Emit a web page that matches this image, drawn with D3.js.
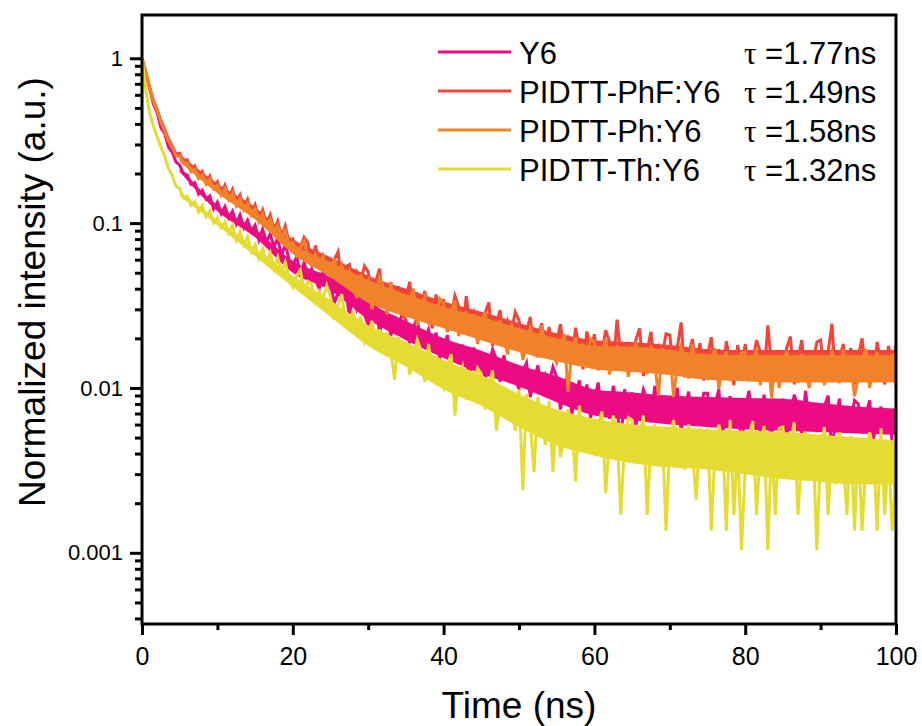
<!DOCTYPE html>
<html>
<head>
<meta charset="utf-8">
<script src="https://cdn.jsdelivr.net/npm/d3@7"></script>
<style>
  body { margin: 0; background: #fff; }
  svg { display: block; }
</style>
</head>
<body>
<div id="chart"></div>
<script>
// time channels, 0.5 ns bins from 0 to 100 ns
const time_ns = d3.range(0, 100.25, 0.5);

// normalized PL decay, one value per time channel
const y6_values = [
  1.0, 0.80, 0.66, 0.53, 0.47, 0.38, 0.35, 0.29, 0.27, 0.235,
  0.225, 0.20, 0.196, 0.172, 0.176, 0.15, 0.158, 0.14, 0.146, 0.122,
  0.134, 0.114, 0.126, 0.108, 0.118, 0.099, 0.112, 0.094, 0.104, 0.089,
  0.097, 0.079, 0.092, 0.077, 0.086, 0.072, 0.081, 0.063, 0.075, 0.06,
  0.055, 0.0627, 0.0499, 0.0576, 0.0482, 0.0528, 0.0453, 0.040, 0.0513, 0.0445,
  0.0432, 0.0327, 0.0376, 0.0446, 0.0404, 0.0273, 0.039, 0.0299, 0.0332, 0.028,
  0.024, 0.0303, 0.034, 0.0215, 0.0271, 0.0289, 0.0207, 0.0256, 0.0229, 0.0284,
  0.026, 0.0187, 0.0231, 0.027, 0.0177, 0.0194, 0.0226, 0.0175, 0.0217, 0.0152,
  0.0174, 0.0209, 0.0151, 0.0186, 0.0143, 0.0183, 0.0144, 0.0117, 0.0176, 0.014,
  0.0164, 0.0112, 0.0136, 0.0171, 0.015, 0.0109, 0.0158, 0.012, 0.0133, 0.0111,
  0.0099, 0.0126, 0.0142, 0.0088, 0.0112, 0.0137, 0.0096, 0.012, 0.0107, 0.0134,
  0.0116, 0.0074, 0.010, 0.0122, 0.0069, 0.0091, 0.0111, 0.008, 0.0105, 0.0066,
  0.0085, 0.0108, 0.007, 0.0093, 0.0065, 0.0103, 0.0078, 0.0045, 0.0098, 0.0075,
  0.0094, 0.0059, 0.0075, 0.0098, 0.0085, 0.0062, 0.0103, 0.0071, 0.0082, 0.0064,
  0.0063, 0.0086, 0.010, 0.0054, 0.0075, 0.0095, 0.0061, 0.0082, 0.007, 0.0093,
  0.0093, 0.0058, 0.0079, 0.0098, 0.0053, 0.0072, 0.0089, 0.0063, 0.0084, 0.0042,
  0.0074, 0.0096, 0.0059, 0.0081, 0.0054, 0.0091, 0.0066, 0.0049, 0.0086, 0.0064,
  0.0086, 0.005, 0.0067, 0.0091, 0.0077, 0.0053, 0.0096, 0.0062, 0.0074, 0.0055,
  0.0056, 0.0077, 0.009, 0.004, 0.0067, 0.0086, 0.0054, 0.0073, 0.0063, 0.0084,
  0.008, 0.0053, 0.0069, 0.0084, 0.0049, 0.0064, 0.0077, 0.0056, 0.0073, 0.0047,
  0.0021
];

const phf_values = [
  1.0, 0.83, 0.67, 0.56, 0.49, 0.42, 0.37, 0.325, 0.295, 0.262,
  0.265, 0.236, 0.242, 0.21, 0.222, 0.19, 0.205, 0.176, 0.193, 0.165,
  0.178, 0.152, 0.17, 0.142, 0.16, 0.131, 0.148, 0.124, 0.139, 0.115,
  0.129, 0.105, 0.12, 0.099, 0.112, 0.091, 0.103, 0.082, 0.096, 0.076,
  0.080, 0.064, 0.071, 0.082, 0.076, 0.055, 0.073, 0.059, 0.064, 0.056,
  0.049, 0.060, 0.067, 0.044, 0.054, 0.056, 0.040, 0.050, 0.044, 0.055,
  0.0507, 0.0335, 0.0438, 0.053, 0.0312, 0.0362, 0.0434, 0.0321, 0.0414, 0.027,
  0.035, 0.044, 0.029, 0.038, 0.027, 0.0387, 0.0295, 0.023, 0.0369, 0.0286,
  0.0346, 0.0219, 0.0278, 0.0363, 0.0312, 0.0212, 0.036, 0.0245, 0.0286, 0.022,
  0.021, 0.0285, 0.033, 0.018, 0.0248, 0.0296, 0.0191, 0.0254, 0.0219, 0.0289,
  0.0258, 0.0168, 0.0222, 0.027, 0.0156, 0.0204, 0.0246, 0.018, 0.0234, 0.015,
  0.019, 0.0244, 0.0154, 0.0208, 0.0142, 0.0232, 0.0172, 0.013, 0.022, 0.0166,
  0.0212, 0.0128, 0.0167, 0.0224, 0.019, 0.0133, 0.026, 0.0156, 0.0184, 0.0139,
  0.014, 0.0196, 0.023, 0.0118, 0.0168, 0.0219, 0.0135, 0.0185, 0.0157, 0.0213,
  0.0209, 0.0127, 0.0176, 0.025, 0.0116, 0.016, 0.0198, 0.0138, 0.0187, 0.0111,
  0.0156, 0.0203, 0.0125, 0.0172, 0.0114, 0.0192, 0.014, 0.0104, 0.0182, 0.0135,
  0.0185, 0.011, 0.0145, 0.0195, 0.0165, 0.0115, 0.024, 0.0135, 0.016, 0.012,
  0.0125, 0.0175, 0.0205, 0.0105, 0.015, 0.0195, 0.012, 0.0165, 0.014, 0.019,
  0.0195, 0.012, 0.0165, 0.0245, 0.011, 0.015, 0.0185, 0.013, 0.0175, 0.0105,
  0.0155, 0.020, 0.0125, 0.017, 0.0115, 0.019, 0.014, 0.0105, 0.018, 0.0135,
  0.0182
];

const ph_values = [
  1.0, 0.82, 0.66, 0.55, 0.48, 0.41, 0.36, 0.315, 0.29, 0.255,
  0.255, 0.232, 0.232, 0.205, 0.212, 0.186, 0.196, 0.172, 0.185, 0.162,
  0.17, 0.148, 0.162, 0.139, 0.152, 0.128, 0.14, 0.121, 0.132, 0.112,
  0.122, 0.102, 0.114, 0.097, 0.106, 0.089, 0.097, 0.08, 0.09, 0.074,
  0.076, 0.064, 0.071, 0.078, 0.062, 0.059, 0.065, 0.055, 0.063, 0.051,
  0.052, 0.061, 0.046, 0.055, 0.044, 0.051, 0.042, 0.035, 0.049, 0.041,
  0.045, 0.030, 0.037, 0.047, 0.041, 0.028, 0.044, 0.031, 0.036, 0.029,
  0.027, 0.035, 0.040, 0.024, 0.031, 0.0355, 0.0243, 0.031, 0.0273, 0.0348,
  0.0326, 0.0221, 0.0284, 0.034, 0.0207, 0.0246, 0.0293, 0.0219, 0.028, 0.0185,
  0.0235, 0.0289, 0.0199, 0.0253, 0.0187, 0.0258, 0.020, 0.016, 0.0246, 0.0195,
  0.0221, 0.0148, 0.0182, 0.023, 0.0201, 0.0153, 0.024, 0.0172, 0.0196, 0.0158,
  0.0142, 0.0186, 0.0212, 0.0095, 0.0164, 0.0203, 0.0138, 0.0177, 0.0155, 0.0199,
  0.019, 0.0129, 0.0166, 0.0198, 0.0121, 0.0153, 0.0182, 0.0137, 0.0174, 0.0117,
  0.0154, 0.019, 0.0129, 0.0166, 0.0121, 0.0182, 0.0141, 0.009, 0.0174, 0.0137,
  0.017, 0.0088, 0.0138, 0.0178, 0.0154, 0.0114, 0.0186, 0.013, 0.015, 0.0118,
  0.0114, 0.0152, 0.0174, 0.0099, 0.0133, 0.0167, 0.011, 0.0144, 0.0125, 0.0163,
  0.0165, 0.0111, 0.0143, 0.0172, 0.0104, 0.0132, 0.0158, 0.0087, 0.015, 0.010,
  0.0136, 0.0168, 0.0114, 0.0147, 0.0107, 0.0161, 0.0125, 0.010, 0.0154, 0.0122,
  0.0158, 0.0104, 0.0129, 0.0165, 0.0143, 0.0107, 0.0172, 0.0122, 0.014, 0.0089,
  0.0114, 0.015, 0.0172, 0.010, 0.0132, 0.0165, 0.0111, 0.0143, 0.0125, 0.0161,
  0.0102
];

const th_values = [
  1.0, 0.64, 0.47, 0.39, 0.335, 0.29, 0.255, 0.215, 0.195, 0.168,
  0.162, 0.142, 0.146, 0.128, 0.135, 0.117, 0.128, 0.11, 0.119, 0.1,
  0.108, 0.094, 0.102, 0.087, 0.097, 0.079, 0.089, 0.074, 0.083, 0.067,
  0.074, 0.061, 0.07, 0.058, 0.066, 0.053, 0.062, 0.05, 0.058, 0.046,
  0.0408, 0.0478, 0.052, 0.038, 0.0443, 0.0426, 0.0321, 0.0384, 0.0349, 0.0419,
  0.0357, 0.026, 0.0318, 0.037, 0.0247, 0.0244, 0.0286, 0.022, 0.0274, 0.019,
  0.0213, 0.0255, 0.0184, 0.0227, 0.0175, 0.0216, 0.0168, 0.0112, 0.0206, 0.0164,
  0.0187, 0.012, 0.0151, 0.0196, 0.0169, 0.0109, 0.0185, 0.0126, 0.0147, 0.0113,
  0.010, 0.0138, 0.016, 0.0068, 0.0119, 0.0135, 0.0085, 0.0115, 0.0098, 0.0132,
  0.0122, 0.0074, 0.0103, 0.0128, 0.0055, 0.0082, 0.0102, 0.007, 0.0096, 0.0055,
  0.0098, 0.0024, 0.0092, 0.006, 0.0031, 0.0088, 0.0063, 0.0045, 0.0083, 0.0031,
  0.007, 0.0038, 0.0053, 0.0074, 0.0061, 0.0027, 0.0078, 0.0049, 0.0059, 0.0042,
  0.004, 0.006, 0.0072, 0.0023, 0.005, 0.0068, 0.0052, 0.0017, 0.0046, 0.0066,
  0.0064, 0.0035, 0.0052, 0.0068, 0.0017, 0.0047, 0.006, 0.0039, 0.0056, 0.00136,
  0.0047, 0.0064, 0.0036, 0.0053, 0.0032, 0.006, 0.0041, 0.0021, 0.0057, 0.0039,
  0.0057, 0.00136, 0.0042, 0.006, 0.0049, 0.00136, 0.0064, 0.0017, 0.0047, 0.00104,
  0.0032, 0.0051, 0.0063, 0.0017, 0.0042, 0.0059, 0.00104, 0.0047, 0.0017, 0.0057,
  0.0058, 0.0028, 0.0046, 0.0062, 0.0017, 0.004, 0.0054, 0.0032, 0.005, 0.00104,
  0.0041, 0.0058, 0.0017, 0.0047, 0.0026, 0.0054, 0.0035, 0.0017, 0.0051, 0.00136,
  0.005, 0.00136, 0.0036, 0.0054, 0.0043, 0.00136, 0.0057, 0.0017, 0.0041, 0.00136,
  0.0031
];

// dense middle of each noisy trace, read every 5 ns from 5 to 100 ns
const core_time_ns = d3.range(5, 100.1, 5);

const y6_core_low = [
  0.205, 0.118, 0.082, 0.05, 0.039, 0.026, 0.0195, 0.0152, 0.0122, 0.0102,
  0.0082, 0.0068, 0.0064, 0.006, 0.0058, 0.0056, 0.0055, 0.0054, 0.0053, 0.0052
];
const y6_core_high = [
  0.218, 0.128, 0.092, 0.059, 0.047, 0.033, 0.0255, 0.020, 0.0168, 0.0138,
  0.0118, 0.0098, 0.0094, 0.009, 0.0088, 0.0087, 0.0086, 0.0081, 0.0077, 0.0075
];

const phf_core_low = [
  0.245, 0.158, 0.11, 0.068, 0.049, 0.035, 0.028, 0.024, 0.0205, 0.0172,
  0.015, 0.0136, 0.013, 0.0125, 0.0116, 0.0116, 0.0116, 0.0116, 0.0116, 0.0116
];
const phf_core_high = [
  0.262, 0.174, 0.125, 0.08, 0.062, 0.048, 0.04, 0.0335, 0.029, 0.0248,
  0.0215, 0.0195, 0.019, 0.0182, 0.0172, 0.017, 0.017, 0.017, 0.017, 0.017
];

const ph_core_low = [
  0.236, 0.152, 0.105, 0.065, 0.047, 0.033, 0.027, 0.023, 0.0195, 0.0165,
  0.0145, 0.013, 0.0125, 0.012, 0.0112, 0.011, 0.0108, 0.0108, 0.0108, 0.0108
];
const ph_core_high = [
  0.25, 0.165, 0.118, 0.075, 0.058, 0.045, 0.037, 0.031, 0.027, 0.023,
  0.020, 0.018, 0.0178, 0.017, 0.016, 0.0158, 0.0158, 0.0158, 0.0158, 0.0158
];

const th_core_low = [
  0.146, 0.097, 0.063, 0.041, 0.027, 0.018, 0.0135, 0.0098, 0.0078, 0.0058,
  0.0045, 0.0039, 0.0035, 0.0033, 0.0032, 0.003, 0.0028, 0.0027, 0.0026, 0.0026
];
const th_core_high = [
  0.156, 0.104, 0.07, 0.048, 0.034, 0.024, 0.019, 0.0148, 0.012, 0.0092,
  0.0074, 0.0065, 0.006, 0.0058, 0.0056, 0.0055, 0.0054, 0.0052, 0.005, 0.0048
];

const series_names = ['Y6', 'PIDTT-PhF:Y6', 'PIDTT-Ph:Y6', 'PIDTT-Th:Y6'];
const lifetimes_ns = ['1.77', '1.49', '1.58', '1.32'];
const series_colors = ['#ec0b83', '#f6433a', '#f0832a', '#e5dc33'];
const series_values = [y6_values, phf_values, ph_values, th_values];
const series_core_low = [y6_core_low, phf_core_low, ph_core_low, th_core_low];
const series_core_high = [y6_core_high, phf_core_high, ph_core_high, th_core_high];

const x_major_ticks = [0, 20, 40, 60, 80, 100];
const x_minor_ticks = [10, 30, 50, 70, 90];
const y_major_ticks = [0.001, 0.01, 0.1, 1];

const fig_width = 922;
const fig_height = 726;
const frame = {left: 142, right: 896, top: 15, bottom: 624};
const sans = 'Liberation Sans, Arial, sans-serif';

const svg = d3.select('#chart')
  .append('svg')
    .attr('width', fig_width)
    .attr('height', fig_height);

const x = d3.scaleLinear()
  .domain([0, 100])
  .range([frame.left, frame.right]);

const y = d3.scaleLog()
  .domain([0.00037, 1.83])
  .range([frame.bottom, frame.top]);

// minor ticks at 2..9 x each decade
const y_minor_ticks = y.ticks().filter(d => y_major_ticks.indexOf(d) < 0);

svg.append('clipPath')
    .attr('id', 'plot_clip')
  .append('rect')
    .attr('x', frame.left)
    .attr('y', frame.top)
    .attr('width', frame.right - frame.left)
    .attr('height', frame.bottom - frame.top);

const line = d3.line()
  .x((d, i) => x(time_ns[i]))
  .y(d => y(d));

const core_area = d3.area()
  .curve(d3.curveMonotoneX)
  .x((d, i) => x(core_time_ns[i]))
  .y0(d => y(d[0]))
  .y1(d => y(d[1]));

const plot = svg.append('g')
    .attr('clip-path', 'url(#plot_clip)');

const traces = plot.selectAll('g')
  .data(series_values)
  .join('g');

traces.append('path')
    .attr('d', (d, i) => core_area(d3.zip(series_core_low[i], series_core_high[i])))
    .attr('fill', (d, i) => series_colors[i]);

traces.append('path')
    .attr('d', line)
    .attr('fill', 'none')
    .attr('stroke', (d, i) => series_colors[i])
    .attr('stroke-width', 3);

// axes
function style_axis(g, font_size)
{
  g.select('.domain').remove();
  g.selectAll('.tick line').attr('stroke', '#000').attr('stroke-width', 3);
  g.selectAll('.tick text')
    .attr('fill', '#000')
    .style('font-family', sans)
    .style('font-size', font_size + 'px');
}

svg.append('g')
    .attr('transform', 'translate(0,' + frame.bottom + ')')
    .call(d3.axisBottom(x).tickValues(x_minor_ticks).tickSize(6).tickFormat(''))
    .call(g => style_axis(g, 25));

svg.append('g')
    .attr('transform', 'translate(0,' + frame.bottom + ')')
    .call(d3.axisBottom(x).tickValues(x_major_ticks).tickSize(11).tickPadding(12))
    .call(g => style_axis(g, 25));

svg.append('g')
    .attr('transform', 'translate(' + frame.left + ',0)')
    .call(d3.axisLeft(y).tickValues(y_minor_ticks).tickSize(7).tickFormat(''))
    .call(g => style_axis(g, 22));

svg.append('g')
    .attr('transform', 'translate(' + frame.left + ',0)')
    .call(d3.axisLeft(y).tickValues(y_major_ticks).tickSize(12).tickPadding(7)
      .tickFormat(d3.format('~g')))
    .call(g => style_axis(g, 22));

svg.append('rect')
    .attr('x', frame.left)
    .attr('y', frame.top)
    .attr('width', frame.right - frame.left)
    .attr('height', frame.bottom - frame.top)
    .attr('fill', 'none')
    .attr('stroke', '#000')
    .attr('stroke-width', 3);

// axis titles
svg.append('text')
    .attr('x', (frame.left + frame.right) / 2)
    .attr('y', 718)
    .attr('text-anchor', 'middle')
    .style('font-family', sans)
    .style('font-size', '37px')
    .text('Time (ns)');

svg.append('text')
    .attr('transform', 'translate(45,292) rotate(-90)')
    .attr('text-anchor', 'middle')
    .style('font-family', sans)
    .style('font-size', '37px')
    .text('Normalized intensity (a.u.)');

// legend
const legend = svg.append('g')
    .attr('transform', 'translate(438,52)');

const legend_rows = legend.selectAll('g')
  .data(series_names)
  .join('g')
    .attr('transform', (d, i) => 'translate(0,' + (i * 39) + ')');

legend_rows.append('line')
    .attr('x1', 0)
    .attr('x2', 73)
    .attr('stroke', (d, i) => series_colors[i])
    .attr('stroke-width', 3);

legend_rows.append('text')
    .attr('x', 81)
    .attr('y', 12)
    .style('font-family', sans)
    .style('font-size', '31px')
    .text(d => d);

const tau_text = legend_rows.append('text')
    .attr('x', 306)
    .attr('y', 12)
    .style('font-size', '31px');

tau_text.append('tspan')
    .style('font-family', 'Liberation Serif, Times New Roman, serif')
    .text('\u03c4');

tau_text.append('tspan')
    .style('font-family', sans)
    .text((d, i) => ' =' + lifetimes_ns[i] + 'ns');
</script>
</body>
</html>
